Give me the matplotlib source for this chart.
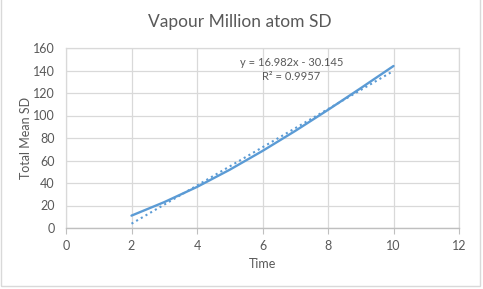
import numpy as np
import matplotlib
matplotlib.use('Agg')
import matplotlib.pyplot as plt
from matplotlib.patches import Rectangle

# data
time = [2, 3, 4, 5, 6, 7, 8, 9, 10]
total_mean_sd = [11, 23, 36.5, 51.8, 68.5, 86.3, 105, 124.3, 144]

# linear trendline as printed on the chart
trend_slope = 16.982
trend_intercept = -30.145
trend_eq = 'y = 16.982x - 30.145'
trend_r2 = 'R² = 0.9957'

x_ticks = [0, 2, 4, 6, 8, 10, 12]
y_ticks = [0, 20, 40, 60, 80, 100, 120, 140, 160]

blue = '#5b9bd5'
grey_text = '#595959'
grid_col = '#d9d9d9'

plt.rcParams['font.family'] = ['Lato', 'DejaVu Sans']

fig = plt.figure(figsize=(4.83, 2.89), dpi=100)
ax = fig.add_axes([66/483, 1 - 228/289, (459 - 66)/483, (228 - 48)/289])

ax.plot(time, total_mean_sd, color=blue, lw=1.7,
        solid_capstyle='round', solid_joinstyle='round')

tx = np.array([time[0], time[-1]])
ax.plot(tx, trend_slope*tx + trend_intercept, color=blue, lw=1.5,
        linestyle=(0, (1, 1.6)))

ax.text(0.574, 0.917, trend_eq, ha='center', va='center',
        fontsize=8, color=grey_text, transform=ax.transAxes)
ax.text(0.574, 0.842, trend_r2, ha='center', va='center',
        fontsize=8, color=grey_text, transform=ax.transAxes)

ax.set_xlim(0, 12)
ax.set_ylim(0, 160)
ax.set_xticks(x_ticks)
ax.set_yticks(y_ticks)
ax.grid(True, color=grid_col, lw=0.9)
ax.set_axisbelow(True)
for side in ['top', 'right', 'left']:
    ax.spines[side].set_color(grid_col)
    ax.spines[side].set_linewidth(0.9)
ax.spines['bottom'].set_color('#bfbfbf')
ax.spines['bottom'].set_linewidth(1.0)
ax.tick_params(axis='x', direction='out', length=4, color='#bfbfbf',
               labelsize=9, labelcolor=grey_text, pad=5)
ax.tick_params(axis='y', length=0, labelsize=9, labelcolor=grey_text, pad=8)

ax.set_xlabel('Time', fontsize=9, color=grey_text, labelpad=4)
ax.set_ylabel('Total Mean SD', fontsize=9, color=grey_text, labelpad=1)
fig.text(240/483, 1 - 22/289, 'Vapour Million atom SD', ha='center',
         va='center', fontsize=12.5, color=grey_text)

# chart border
fig.patches.append(Rectangle((0.5/483, 3/289), 479.5/483, 1, fill=False,
                             edgecolor=grid_col, lw=1.0,
                             transform=fig.transFigure))

fig.savefig('out.png', dpi=100, facecolor='white')
